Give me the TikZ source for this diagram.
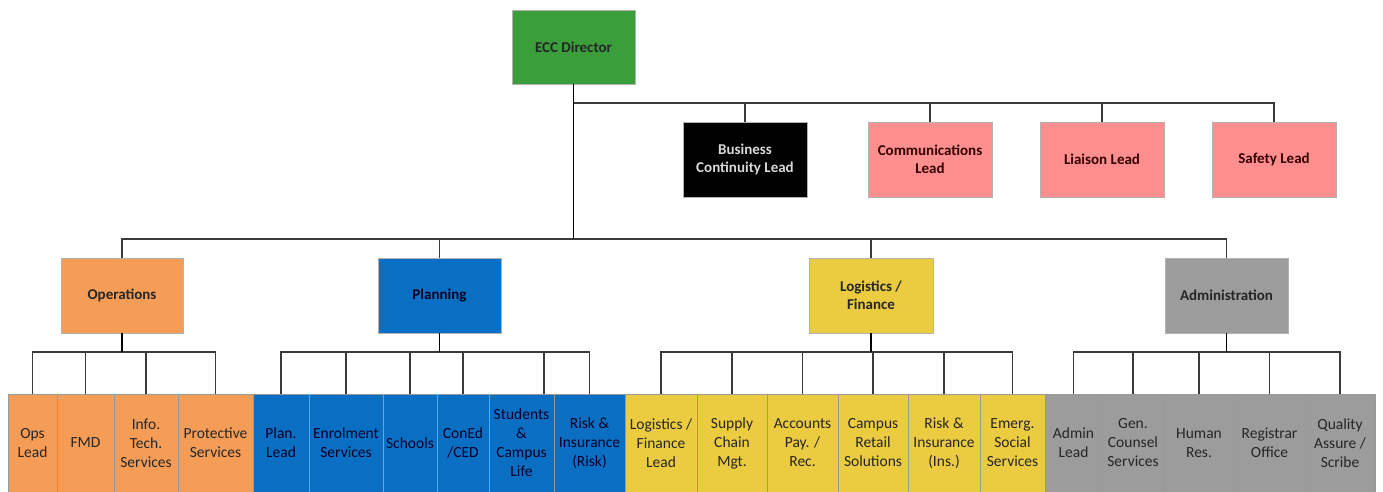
\documentclass[tikz,border=0pt]{standalone}
\usepackage{fontspec}
\setmainfont{Carlito}
\definecolor{cgreen}{HTML}{3A9E3A}
\definecolor{corange}{HTML}{F59D56}
\definecolor{cblue}{HTML}{0A6FC2}
\definecolor{cyellow}{HTML}{EBCB40}
\definecolor{cpink}{HTML}{FF8F8F}
\definecolor{cgray}{HTML}{9C9C9C}
\definecolor{cline}{HTML}{3A3A3A}
\begin{document}
\begin{tikzpicture}[x=1pt,y=-1pt,
  box/.style={draw=black!30, line width=0.6pt, inner sep=0pt, align=center,
    minimum height=75pt, font=\fontsize{15}{18}\selectfont\bfseries},
  bot/.style={draw=black!40, line width=0.6pt, inner sep=0pt, align=center,
    minimum height=98pt, font=\fontsize{15.5}{19}\selectfont},
  ln/.style={draw=cline, line width=1.3pt},
  stem/.style={draw=black, line width=1.9pt},
  org/.style={fill=corange, text=black!85},
  pla/.style={fill=cblue, text=black!85!blue},
  lof/.style={fill=cyellow, text=black!85},
  adm/.style={fill=cgray, text=black!85},
  pnk/.style={fill=cpink, text=black!80!red},
]
\useasboundingbox (0,0) rectangle (1383,492);
% top
\node[box, fill=cgreen, text=black!85, minimum width=123pt, minimum height=74pt] (dir) at (573.5,47) {ECC Director};
\node[box, fill=black, text=black!15, minimum width=124pt] (bcl) at (745,159.5) {Business\\Continuity Lead};
\node[box, pnk, minimum width=124pt] (com) at (930,159.5) {Communications\\Lead};
\node[box, pnk, minimum width=124pt] (lia) at (1102,159.5) {Liaison Lead};
\node[box, pnk, minimum width=124pt] (saf) at (1274,159.5) {Safety Lead};
% second row
\node[box, org, minimum width=122pt] (ops) at (122,295.5) {Operations};
\node[box, pla, minimum width=123pt] (pln) at (439.5,295.5) {Planning};
\node[box, lof, minimum width=124pt] (log) at (871,295.5) {Logistics /\\Finance};
\node[box, adm, minimum width=123pt] (adm) at (1226.5,295.5) {Administration};
% bottom: operations
\node[bot, org, minimum width=49pt] (opsl) at (32.5,443) {Ops\\Lead};
\node[bot, org, minimum width=57pt] (fmd) at (85.5,443) {FMD};
\node[bot, org, minimum width=64pt] (its) at (146,443) {Info.\\Tech.\\Services};
\node[bot, org, minimum width=75pt] (prot) at (215.5,443) {Protective\\Services};
% planning
\node[bot, pla, minimum width=56pt] (pl) at (281,443) {Plan.\\Lead};
\node[bot, pla, minimum width=74pt] (enr) at (346,443) {Enrolment\\Services};
\node[bot, pla, minimum width=54pt] (sch) at (410,443) {Schools};
\node[bot, pla, minimum width=52pt] (con) at (463,443) {ConEd\\/CED};
\node[bot, pla, minimum width=65pt] (stu) at (521.5,443) {Students\\\&\\Campus\\Life};
\node[bot, pla, minimum width=71pt] (rsk) at (589.5,443) {Risk \&\\Insurance\\(Risk)};
% logistics
\node[bot, lof, minimum width=72pt] (lfl) at (661,443) {Logistics /\\Finance\\Lead};
\node[bot, lof, minimum width=70pt] (scm) at (732,443) {Supply\\Chain\\Mgt.};
\node[bot, lof, minimum width=71pt] (acc) at (802.5,443) {Accounts\\Pay. /\\Rec.};
\node[bot, lof, minimum width=70pt] (crs) at (873,443) {Campus\\Retail\\Solutions};
\node[bot, lof, minimum width=72pt] (rii) at (944,443) {Risk \&\\Insurance\\(Ins.)};
\node[bot, lof, minimum width=65pt] (ess) at (1012.5,443) {Emerg.\\Social\\Services};
% admin
\node[bot, adm, minimum width=57pt] (al) at (1073.5,443) {Admin\\Lead};
\node[bot, adm, minimum width=62pt] (gcs) at (1133,443) {Gen.\\Counsel\\Services};
\node[bot, adm, minimum width=70pt] (hr) at (1199,443) {Human\\Res.};
\node[bot, adm, minimum width=71pt] (ro) at (1269.5,443) {Registrar\\Office};
\node[bot, adm, minimum width=70pt] (qa) at (1340,443) {Quality\\Assure /\\Scribe};
% connectors: top
\foreach \c in {bcl,com,lia,saf} \draw[ln] (dir.south) -- (dir.south |- 0,103) -| (\c.north);
\foreach \c in {ops,pln,log,adm} \draw[ln] (dir.south) -- (dir.south |- 0,239) -| (\c.north);
\draw[stem] (dir.south) -- (dir.south |- 0,239);
% sub-buses
\foreach \p/\kids in {ops/{opsl,fmd,its,prot}, pln/{pl,enr,sch,con,rsk}, log/{lfl,scm,acc,crs,rii,ess}, adm/{al,gcs,hr,ro,qa}}{
  \foreach \k in \kids \draw[ln] (\p.south) -- (\p.south |- 0,352) -| (\k.north);
  \draw[stem] (\p.south) -- (\p.south |- 0,352);
}
\draw[ln] (pln.south |- 0,352) -| ([xshift=22.5pt]stu.north);
\end{tikzpicture}
\end{document}
